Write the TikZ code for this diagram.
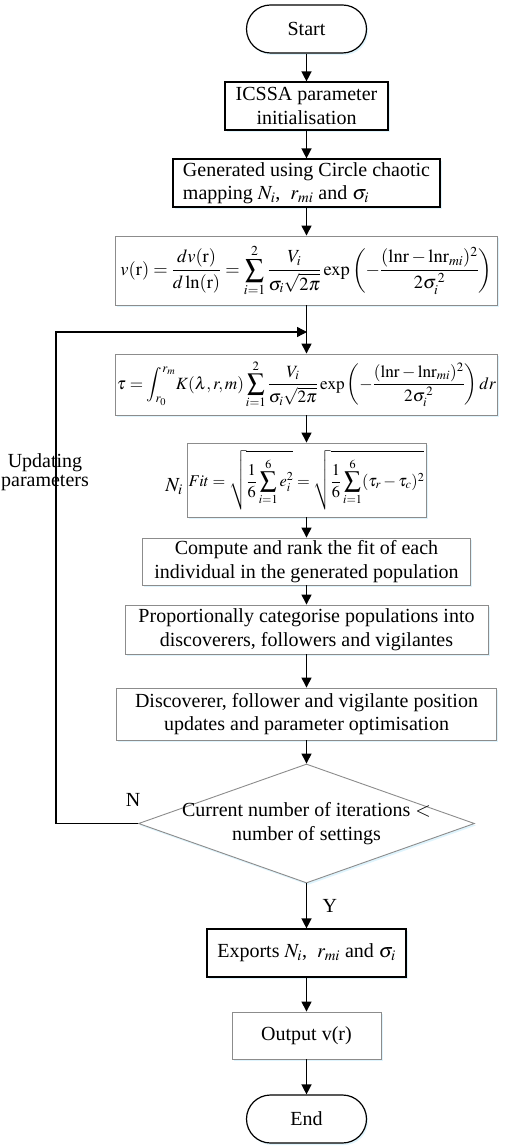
\documentclass[tikz,border=0pt]{standalone}
\usepackage{mathptmx}
\usepackage{fontspec}
\setmainfont{Liberation Serif}
\usetikzlibrary{shapes.geometric,shadows,arrows.meta}

\begin{document}
\begin{tikzpicture}
 [x=1pt, y=1pt, font=\fontsize{20}{23.5}\selectfont, >={Triangle[length=10pt,width=10pt]},
  black box/.style={rectangle, draw=black, line width=1.2pt, fill=white, inner sep=1pt, align=center,
    drop shadow={shadow xshift=1.5pt, shadow yshift=-2pt, fill=cyan!25, opacity=.5}},
  gray box/.style={rectangle, draw=black!45, line width=0.9pt, fill=white, inner sep=1pt, align=center,
    drop shadow={shadow xshift=1.5pt, shadow yshift=-2pt, fill=cyan!25, opacity=.5}},
  formula/.style={gray box, font=\fontsize{18.5}{22}\selectfont},
  end node/.style={black box, rounded corners=24pt, minimum width=120pt, minimum height=48pt},
  test node/.style={diamond, draw=black!45, line width=0.9pt, fill=white, inner sep=0pt,
    minimum width=336pt, minimum height=119pt,
    drop shadow={shadow xshift=1.5pt, shadow yshift=-2pt, fill=cyan!25, opacity=.5}},
  flow/.style={->, line width=1.4pt}]

\useasboundingbox (0,0) rectangle (505,-1147);

\node[end node] (start) at (306.5,-29) {Start};
\node[black box, minimum width=163pt, minimum height=48pt] (init) [node distance=77pt, below of=start] {ICSSA parameter\\initialisation};
\node[black box, minimum width=267pt, minimum height=48pt, align=left, inner sep=3pt] (gen) [node distance=77pt, below of=init]
  {Generated using Circle chaotic\\mapping $N_i$,\ \ $r_{mi}$ and $\sigma_i$};
\node[formula, minimum width=382pt, minimum height=69pt] (vr) [node distance=87.5pt, below of=gen]
  {$\displaystyle v(\mathrm{r})=\frac{dv(\mathrm{r})}{d\ln(\mathrm{r})}=\sum_{i=1}^{2}\frac{V_i}{\sigma_i\sqrt{2\pi}}\exp\left(-\frac{(\mathrm{lnr}-\mathrm{lnr}_{mi})^2}{2\sigma_i^{\,2}}\right)$};
\node[formula, font=\fontsize{17.2}{21}\selectfont, minimum width=382pt, minimum height=61pt] (tau) [node distance=114pt, below of=vr]
  {$\displaystyle \tau=\int_{r_0}^{r_m}\!K(\lambda,r,m)\sum_{i=1}^{2}\frac{V_i}{\sigma_i\sqrt{2\pi}}\exp\left(-\frac{(\mathrm{lnr}-\mathrm{lnr}_{mi})^2}{2\sigma_i^{\,2}}\right)dr$};
\node[formula, font=\fontsize{16.4}{20}\selectfont, minimum width=239pt, minimum height=74pt] (fit) [node distance=95.5pt, below of=tau]
  {$\displaystyle Fit=\sqrt{\frac{1}{6}\sum_{i=1}^{6}e_i^2}=\sqrt{\frac{1}{6}\sum_{i=1}^{6}(\tau_r-\tau_c)^2}$};
\node (ni) at (174,-487) {$N_i$};
\node[gray box, minimum width=328pt, minimum height=47pt] (rank) [node distance=81.5pt, below of=fit]
  {Compute and rank the fit of each\\individual in the generated population};
\node[gray box, minimum width=363pt, minimum height=49pt] (cat) [node distance=68pt, below of=rank]
  {Proportionally categorise populations into\\discoverers, followers and vigilantes};
\node[gray box, minimum width=380pt, minimum height=52pt] (upd) [node distance=84.5pt, below of=cat]
  {Discoverer, follower and vigilante position\\updates and parameter optimisation};
\node[test node, label={[align=center]center:Current number of iterations $<$\\number of settings}] (cond) [node distance=109.5pt, below of=upd] {};
\node[black box, minimum width=199pt, minimum height=48pt] (exp) [node distance=129.5pt, below of=cond]
  {Exports $N_i$,\ \ $r_{mi}$ and $\sigma_i$};
\node[gray box, minimum width=149pt, minimum height=47pt] (out) [node distance=82.5pt, below of=exp] {Output v(r)};
\node[end node] (end) [node distance=83.5pt, below of=out] {End};

\coordinate (back) at (56,-332);
\coordinate (join) at (307,-332);
\node (n) at (133,-800) {N};
\node[align=center, font=\fontsize{20}{19.5}\selectfont] (loop label) at (45,-472) {Updating\\parameters};

\path
  (start) edge [flow] (init)
  (init) edge [flow] (gen)
  (gen) edge [flow] (vr)
  (vr) edge [flow] (tau)
  (tau) edge [flow] (fit)
  (fit) edge [flow] (rank)
  (rank) edge [flow] (cat)
  (cat) edge [flow] (upd)
  (upd) edge [flow] (cond)
  (cond) edge [flow] node [right, xshift=12pt] {Y} (exp)
  (exp) edge [flow] (out)
  (out) edge [flow] (end);

\draw [flow] (cond.west) -| (back) -- (join);

\end{tikzpicture}
\end{document}
